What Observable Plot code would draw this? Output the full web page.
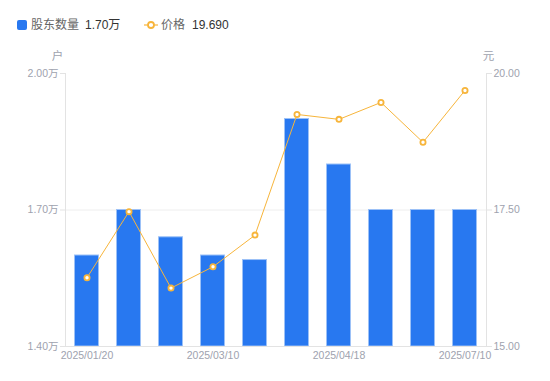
<!DOCTYPE html>
<html><head><meta charset="utf-8">
<script src="https://cdn.jsdelivr.net/npm/d3@7"></script>
<script src="https://cdn.jsdelivr.net/npm/@observablehq/plot@0.6"></script>
<style>
body{margin:0;background:#fff;font-family:"Liberation Sans","Noto Sans CJK SC",sans-serif;}
#wrap{position:relative;width:550px;height:381px;}
#legend{position:absolute;left:0;top:0;width:550px;height:45px;font-size:12px;}
.sw{position:absolute;}
.lt{position:absolute;top:17px;line-height:16px;white-space:nowrap;}
#chart{position:absolute;left:0;top:45px;}
</style></head>
<body><div id="wrap"><div id="legend"></div><div id="chart"></div></div>
<script>
const dates = ["2025/01/20","2025/02/10","2025/02/28","2025/03/10","2025/03/20","2025/03/31","2025/04/18","2025/05/20","2025/06/10","2025/07/10"];
const holders = [1.60,1.70,1.64,1.60,1.59,1.90,1.80,1.70,1.70,1.70]; // 万户
const prices = [16.26,17.47,16.07,16.46,17.04,19.25,19.16,19.47,18.74,19.69]; // 元
const leftTicks = [1.40,1.70,2.00];
const rightTicks = [15.00,17.50,20.00];
const shownDates = ["2025/01/20","2025/03/10","2025/04/18","2025/07/10"];

const blue = "#2878F0", orange = "#F7B53B", gray = "#9EA2AE";
const yMin = 1.40, yMax = 2.00, pMin = 15, pMax = 20;
const toLeft = p => yMin + (p - pMin) / (pMax - pMin) * (yMax - yMin);
const toRight = v => pMin + (v - yMin) / (yMax - yMin) * (pMax - pMin);

const rows = dates.map((d,i)=>({date:d, h:holders[i], p:prices[i], pl:toLeft(prices[i])}));

const lg = document.getElementById("legend");
lg.innerHTML = `
<div class="sw" style="left:17px;top:20px;width:10px;height:10px;background:${blue};border-radius:2px"></div>
<div class="lt" style="left:31px;color:#666">股东数量</div>
<div class="lt" style="left:85px;color:#333">${holders[holders.length-1].toFixed(2)}万</div>
<svg class="sw" style="left:144px;top:19px" width="14" height="12"><line x1="0" y1="6" x2="14" y2="6" stroke="${orange}" stroke-width="1.2"/><circle cx="7" cy="6" r="3" fill="#fff" stroke="${orange}" stroke-width="1.8"/></svg>
<div class="lt" style="left:161px;color:#666">价格</div>
<div class="lt" style="left:192px;color:#333">${prices[prices.length-1].toFixed(3)}</div>`;

const plot = Plot.plot({
  width: 550, height: 336,
  marginLeft: 65, marginRight: 64, marginTop: 28, marginBottom: 35,
  style: {fontFamily: '"Liberation Sans","Noto Sans CJK SC",sans-serif', fontSize: "10.5px", color: gray, background: "#fff"},
  x: {type: "band", domain: dates, paddingInner: 0.4, paddingOuter: 0.2},
  y: {domain: [yMin, yMax]},
  marks: [
    Plot.ruleY([1.70], {stroke: "#EEEEEE"}),
    Plot.barY(rows, {x: "date", y1: yMin, y2: "h", fill: blue, stroke: "#9CC1F7", strokeWidth: 1, insetLeft: 0.5, insetRight: 0.5}),
    Plot.frame({anchor: "left", stroke: "#E3E3E3"}),
    Plot.frame({anchor: "right", stroke: "#E3E3E3"}),
    Plot.frame({anchor: "bottom", stroke: "#E3E3E3"}),
    Plot.axisY(leftTicks, {anchor: "left", tickSize: 5, tickPadding: 2, stroke: "#E3E3E3", fill: gray,
      tickFormat: d => d.toFixed(2) + "万", label: null}),
    Plot.axisY(leftTicks, {anchor: "right", tickSize: 5, tickPadding: 2, stroke: "#E3E3E3", fill: gray,
      tickFormat: d => toRight(d).toFixed(2), label: null}),
    Plot.axisX(shownDates, {anchor: "bottom", tickSize: 0, tickPadding: 5, fill: gray, label: null}),
    Plot.line(rows, {x: "date", y: "pl", stroke: orange, strokeWidth: 1}),
    Plot.dot(rows, {x: "date", y: "pl", r: 2.6, fill: "#fff", stroke: orange, strokeWidth: 1.8}),
    Plot.text(["户"], {frameAnchor: "top-left", dx: -8, dy: -17, fill: gray, fontSize: 11.5, textAnchor: "middle", lineAnchor: "middle"}),
    Plot.text(["元"], {frameAnchor: "top-right", dx: 2, dy: -17, fill: gray, fontSize: 11.5, textAnchor: "middle", lineAnchor: "middle"})
  ]
});
document.getElementById("chart").appendChild(plot);
</script></body></html>
